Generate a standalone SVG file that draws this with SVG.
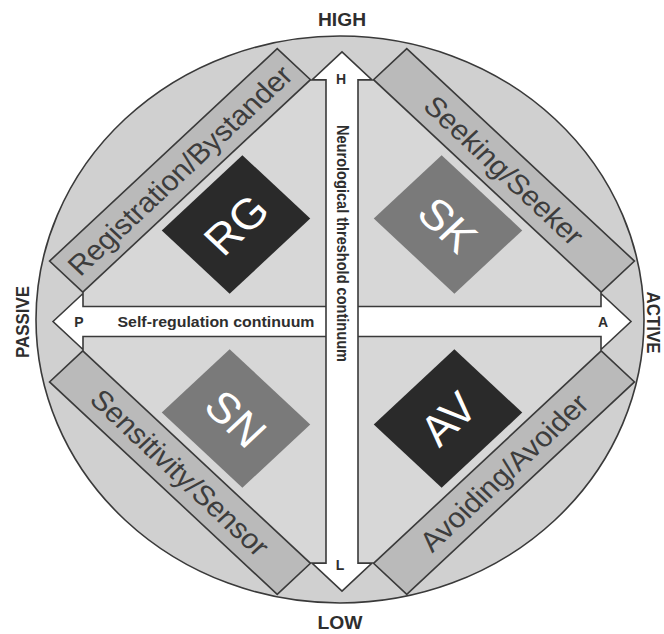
<svg xmlns="http://www.w3.org/2000/svg" width="664" height="634" viewBox="0 0 664 634">
<style>
  .ln { stroke:#3a3a3a; stroke-width:1.6; vector-effect:non-scaling-stroke; stroke-linejoin:miter; }
  .band { fill:#bababa; }
  .bandtxt { font-family:"Liberation Sans", Arial, sans-serif; font-size:30px; fill:#3d3d3d; text-anchor:middle; }
  .dtxt { font-family:"Liberation Sans", Arial, sans-serif; font-size:46px; fill:#ffffff; text-anchor:middle; }
  .lbl { font-family:"Liberation Sans", Arial, sans-serif; font-weight:bold; fill:#2e2e2e; text-anchor:middle; }
  .dark { fill:#2a2a2a; }
  .mid { fill:#7a7a7a; }
</style>
<rect width="664" height="634" fill="#ffffff"/>
<g id="background">
  <ellipse cx="340" cy="319.5" rx="304" ry="283.5" fill="#d0d0d0" class="ln"/>
</g>
<g transform="translate(342,321.5) scale(1,0.933)">
  <polygon points="0,-289 289,0 0,289 -289,0" fill="#d7d7d7"/>
  <g id="band-registration" transform="translate(-162,-162) rotate(-45)">
    <rect x="-161" y="-23.5" width="322" height="47" class="band ln"/>
    <text class="bandtxt" x="0" y="10.5">Registration/Bystander</text>
  </g>
  <g id="band-seeking" transform="translate(162,-162) rotate(45)">
    <rect x="-161" y="-23.5" width="322" height="47" class="band ln"/>
    <text class="bandtxt" x="0" y="10.5">Seeking/Seeker</text>
  </g>
  <g id="band-sensitivity" transform="translate(-162,162) rotate(45)">
    <rect x="-161" y="-23.5" width="322" height="47" class="band ln"/>
    <text class="bandtxt" x="0" y="10.5">Sensitivity/Sensor</text>
  </g>
  <g id="band-avoiding" transform="translate(162,162) rotate(-45)">
    <rect x="-161" y="-23.5" width="322" height="47" class="band ln"/>
    <text class="bandtxt" x="0" y="10.5">Avoiding/Avoider</text>
  </g>
  <g id="node-RG" transform="translate(-106,-104) rotate(-45)">
    <rect x="-57" y="-48" width="114" height="96" class="dark"/>
    <text class="dtxt" x="0" y="16.5">RG</text>
  </g>
  <g id="node-SK" transform="translate(106,-104) rotate(45)">
    <rect x="-57" y="-48" width="114" height="96" class="mid"/>
    <text class="dtxt" x="0" y="16.5">SK</text>
  </g>
  <g id="node-SN" transform="translate(-106,104) rotate(45)">
    <rect x="-57" y="-48" width="114" height="96" class="mid"/>
    <text class="dtxt" x="0" y="16.5">SN</text>
  </g>
  <g id="node-AV" transform="translate(106,104) rotate(-45)">
    <rect x="-57" y="-48" width="114" height="96" class="dark"/>
    <text class="dtxt" x="0" y="16.5">AV</text>
  </g>
  <g id="connectors">
    <polygon id="arrow-self-regulation" class="ln" fill="#ffffff" points="-289,0 -259,-30 -259,-16 259,-16 259,-30 289,0 259,30 259,16 -259,16 -259,30"/>
    <polygon id="arrow-threshold" class="ln" fill="#ffffff" points="0,-289 30,-259 16,-259 16,259 30,259 0,289 -30,259 -16,259 -16,-259 -30,-259"/>
  </g>
</g>
<g id="labels">
  <text class="lbl" x="342" y="26" font-size="19" textLength="48" lengthAdjust="spacingAndGlyphs">HIGH</text>
  <text class="lbl" x="340" y="629" font-size="18" textLength="45" lengthAdjust="spacingAndGlyphs">LOW</text>
  <text class="lbl" font-size="19" textLength="72" lengthAdjust="spacingAndGlyphs" transform="translate(29,322) rotate(-90)">PASSIVE</text>
  <text class="lbl" font-size="18" textLength="62" lengthAdjust="spacingAndGlyphs" transform="translate(647,322.5) rotate(90)">ACTIVE</text>
  <text class="lbl" x="216" y="327" font-size="15" textLength="197" lengthAdjust="spacingAndGlyphs">Self-regulation continuum</text>
  <text class="lbl" x="79" y="327" font-size="14">P</text>
  <text class="lbl" x="603" y="327" font-size="14">A</text>
  <text class="lbl" x="341" y="84" font-size="14">H</text>
  <text class="lbl" x="340" y="570" font-size="14">L</text>
  <text class="lbl" font-size="16" textLength="237" lengthAdjust="spacingAndGlyphs" transform="translate(336.5,243.5) rotate(90)">Neurological threshold continuum</text>
</g>
</svg>
